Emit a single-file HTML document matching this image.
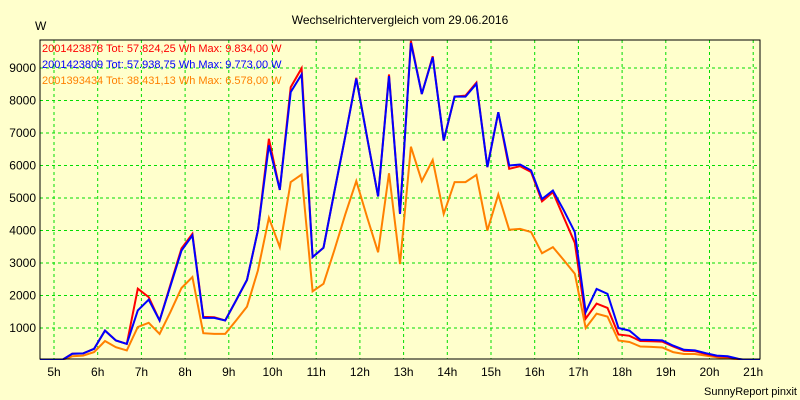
<!DOCTYPE html>
<html><head><meta charset="utf-8"><style>
body{margin:0;background:#FFFFCC;}
svg{display:block;font-family:"Liberation Sans",sans-serif;}
</style></head><body>
<svg id="chart" width="800" height="400" xmlns="http://www.w3.org/2000/svg">
<rect x="0" y="0" width="800" height="400" fill="#FFFFCC"/>
<text x="400" y="24" text-anchor="middle" font-size="12" fill="#000">Wechselrichtervergleich vom 29.06.2016</text>
<text x="35" y="30" font-size="12" fill="#000">W</text>
<g id="grid"></g>
<g id="ylabels"></g>
<g id="xlabels"></g>
<g id="series"></g>
<rect x="40" y="40" width="720" height="319" fill="none" stroke="#000" stroke-width="1"/>
<text x="42" y="52" font-size="11" fill="#FF0000">2001423878 Tot: 57.824,25 Wh Max: 9.834,00 W</text>
<text x="42" y="68" font-size="11" fill="#0000FF">2001423809 Tot: 57.938,75 Wh Max: 9.773,00 W</text>
<text x="42" y="84" font-size="11" fill="#FF8000">2001393434 Tot: 38.431,13 Wh Max: 6.578,00 W</text>
<text x="797" y="395" text-anchor="end" font-size="11" fill="#000">SunnyReport pinxit</text>
</svg>
<script>
const hourTicks=[5,6,7,8,9,10,11,12,13,14,15,16,17,18,19,20,21];
const yTicks=[1000,2000,3000,4000,5000,6000,7000,8000,9000];
const startHour=4.667, stepHour=0.25;
const blue=[0,0,0,205,220,360,920,615,510,1540,1870,1230,2300,3380,3850,1310,1310,1230,1850,2480,4000,6620,5250,8260,8800,3180,3470,5200,6900,8670,6850,5050,8750,4510,9773,8200,9330,6770,8120,8120,8510,5950,7640,6000,6030,5850,4970,5230,4620,3950,1490,2200,2050,1000,920,640,630,620,460,330,310,225,150,130,50,0,0];
const red=[0,0,0,205,220,360,920,615,510,2210,1950,1230,2340,3450,3900,1340,1330,1230,1850,2480,4000,6820,5250,8410,8990,3180,3470,5200,6900,8700,6850,5050,8800,4510,9834,8200,9360,6770,8120,8150,8550,5950,7640,5900,5980,5800,4900,5180,4400,3620,1290,1750,1620,800,760,600,590,580,430,300,290,200,130,110,40,0,0];
const orange=[0,0,0,130,150,260,600,410,310,1030,1160,820,1500,2230,2570,840,820,820,1230,1660,2770,4390,3490,5490,5720,2130,2360,3400,4500,5520,4400,3330,5760,2970,6578,5520,6170,4510,5490,5490,5710,4000,5110,4020,4050,3950,3300,3490,3090,2670,1000,1440,1350,615,570,430,420,400,260,200,200,150,100,70,30,0,0];
const NS="http://www.w3.org/2000/svg";
const X=h=>54+(h-5)*43.7;
const Y=v=>360.5-v*0.0325;
const grid=document.getElementById('grid');
hourTicks.forEach(h=>{
 const l=document.createElementNS(NS,'line');
 
 
 l.setAttribute('x1',X(h));l.setAttribute('x2',X(h));l.setAttribute('y1',40);l.setAttribute('y2',359);
 l.setAttribute('stroke','#00DD00');l.setAttribute('stroke-dasharray','3,3');
 grid.appendChild(l);
 const t=document.createElementNS(NS,'text');
 
 
 t.setAttribute('x',X(h));t.setAttribute('y',376);t.setAttribute('text-anchor','middle');t.setAttribute('font-size','12');
 t.textContent=h+'h';
 document.getElementById('xlabels').appendChild(t);
});
yTicks.forEach(v=>{
 const l=document.createElementNS(NS,'line');
 
 
 l.setAttribute('x1',40);l.setAttribute('x2',760);l.setAttribute('y1',Y(v));l.setAttribute('y2',Y(v));
 l.setAttribute('stroke','#00DD00');l.setAttribute('stroke-dasharray','3,3');
 grid.appendChild(l);
 const t=document.createElementNS(NS,'text');
 
 
 t.setAttribute('x',36);t.setAttribute('y',Y(v)+4);t.setAttribute('text-anchor','end');t.setAttribute('font-size','12');
 t.textContent=v;
 document.getElementById('ylabels').appendChild(t);
});
const ser=document.getElementById('series');
const cp=document.createElementNS(NS,'clipPath');cp.setAttribute('id','clip');
const cr=document.createElementNS(NS,'rect');cr.setAttribute('x',40);cr.setAttribute('y',38);cr.setAttribute('width',720);cr.setAttribute('height',322);
cp.appendChild(cr);ser.appendChild(cp);
[[orange,'#FF8000','series-2001393434'],[red,'#FF0000','series-2001423878'],[blue,'#0000FF','series-2001423809']].forEach(([d,c,n])=>{
 const p=document.createElementNS(NS,'polyline');
 
 
 p.setAttribute('points',d.map((v,i)=>X(startHour+i*stepHour).toFixed(1)+','+Y(v).toFixed(1)).join(' '));
 p.setAttribute('fill','none');p.setAttribute('stroke',c);p.setAttribute('stroke-width','2');
 p.setAttribute('clip-path','url(#clip)');
 ser.appendChild(p);
});
</script>
</body></html>
